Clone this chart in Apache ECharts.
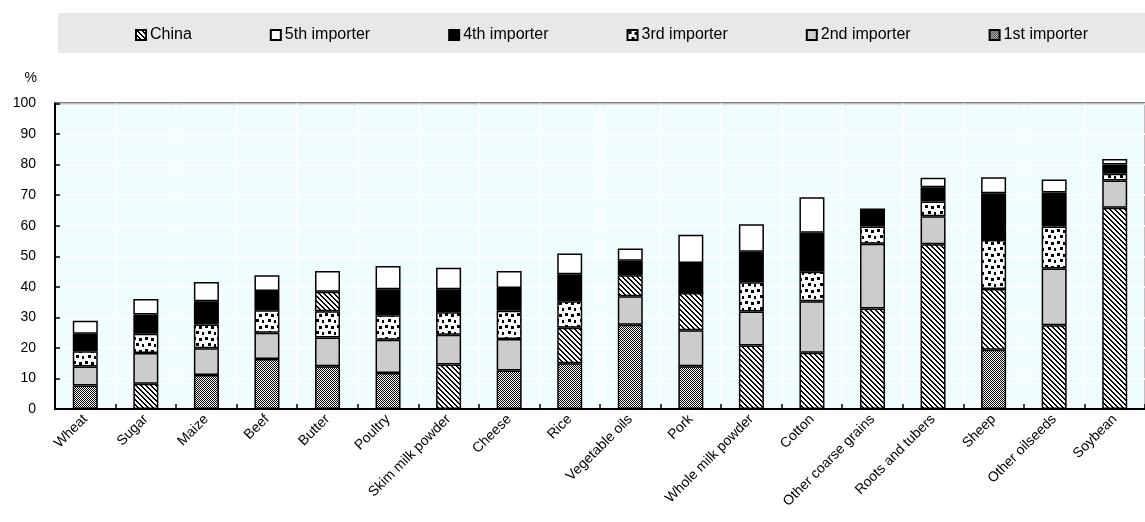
<!DOCTYPE html>
<html>
<head>
<meta charset="utf-8">
<script src="https://cdn.jsdelivr.net/npm/echarts@6/dist/echarts.min.js"></script>
<style>
  html, body { margin: 0; padding: 0; background: #fff; }
  #chart { width: 1145px; height: 522px; }
</style>
</head>
<body>
<div id="chart"></div>
<script>
// Share of world imports (%) held by the five largest importers of each commodity
const categories = ['Wheat', 'Sugar', 'Maize', 'Beef', 'Butter', 'Poultry', 'Skim milk powder', 'Cheese', 'Rice',
  'Vegetable oils', 'Pork', 'Whole milk powder', 'Cotton', 'Other coarse grains', 'Roots and tubers', 'Sheep',
  'Other oilseeds', 'Soybean'];

const rank1 = [7.7, 8.3, 11.1, 16.4, 14.0, 11.8, 14.6, 12.6, 15.0, 27.6, 14.0, 20.8, 18.4, 32.9, 53.9, 19.4, 27.4, 65.9];
const rank2 = [6.2, 10.0, 8.8, 8.6, 9.4, 10.9, 9.7, 10.3, 11.6, 9.3, 11.8, 11.1, 16.9, 21.2, 9.2, 19.9, 18.6, 8.9];
const rank3 = [5.0, 6.3, 7.8, 7.3, 8.6, 8.0, 7.4, 9.3, 8.7, 6.9, 12.2, 9.6, 9.6, 5.6, 4.8, 16.0, 13.7, 2.2];
const rank4 = [5.7, 6.3, 7.6, 6.3, 6.4, 8.5, 7.5, 7.4, 8.8, 4.7, 9.8, 10.0, 12.8, 5.7, 4.7, 15.3, 11.2, 3.0];
const rank5 = [4.3, 5.1, 6.3, 5.2, 6.8, 7.6, 7.0, 5.6, 6.8, 4.0, 9.2, 9.0, 11.6, 0, 3.1, 5.3, 4.2, 1.8];

// China's position among the top five importers (0 = not in the top five)
const chinaRank = [0, 1, 0, 0, 4, 0, 1, 0, 2, 3, 3, 1, 1, 1, 1, 2, 1, 1];

const seriesNames = ['China', '5th importer', '4th importer', '3rd importer', '2nd importer', '1st importer'];
const yTicks = { min: 0, max: 100, interval: 10 };

// Small repeating fill patterns
function tile(size, draw) {
  const c = document.createElement('canvas');
  c.width = size; c.height = size;
  const g = c.getContext('2d');
  draw(g, size);
  return { image: c, repeat: 'repeat' };
}
const hatch = tile(5, (g, n) => {
  g.fillStyle = '#fff'; g.fillRect(0, 0, n, n);
  g.fillStyle = '#000';
  for (let y = 0; y < n; y++) { g.fillRect(y % n, y, 1, 1); g.fillRect((y + 1) % n, y, 1, 1); }
});
const checker = tile(2, (g) => {
  g.fillStyle = '#fff'; g.fillRect(0, 0, 2, 2);
  g.fillStyle = '#000'; g.fillRect(0, 0, 1, 1); g.fillRect(1, 1, 1, 1);
});
const confetti = tile(12, (g) => {
  g.fillStyle = '#fff'; g.fillRect(0, 0, 12, 12);
  g.fillStyle = '#000';
  [[1, 1], [7, 2], [4, 7], [10, 8]].forEach(([x, y]) => g.fillRect(x, y, 3, 3));
});

const fills = {
  'China': hatch,
  '5th importer': '#ffffff',
  '4th importer': '#000000',
  '3rd importer': confetti,
  '2nd importer': '#cccccc',
  '1st importer': checker
};

const rankData = [rank1, rank2, rank3, rank4, rank5];
const rankNames = ['1st importer', '2nd importer', '3rd importer', '4th importer', '5th importer'];

const border = { borderColor: '#000', borderWidth: 1.5 };

const series = rankNames.map((name, r) => ({
  name,
  type: 'bar',
  stack: 'share',
  barWidth: 25,
  itemStyle: Object.assign({ color: fills[name] }, border),
  data: rankData[r].map((v, i) => chinaRank[i] === r + 1
    ? { value: v, itemStyle: { color: fills['China'] } }
    : v)
}));
// China series: its segments sit inside the ranked stack above, this entry carries the legend key
series.push({
  name: 'China',
  type: 'bar',
  stack: 'share',
  barWidth: 25,
  itemStyle: Object.assign({ color: fills['China'] }, border),
  data: categories.map(() => '-')
});

const font = "'Liberation Sans', Arial, sans-serif";

const chart = echarts.init(document.getElementById('chart'), null, { renderer: 'canvas' });
chart.setOption({
  animation: false,
  backgroundColor: '#fff',
  graphic: [{
    type: 'rect', left: 58, top: 13, z: -10,
    shape: { width: 1100, height: 40 },
    style: { fill: '#e8e8e8' }
  }],
  legend: {
    data: seriesNames,
    left: 135, top: 27, padding: 0, width: 1000,
    itemGap: 78, itemWidth: 10, itemHeight: 10, icon: 'rect',
    textStyle: { fontFamily: font, fontSize: 16, color: '#000', padding: [0, 0, 0, -1] }
  },
  grid: {
    left: 55, top: 103.5, width: 1103, bottom: 113,
    show: true, backgroundColor: '#effdff', borderColor: '#000', borderWidth: 2
  },
  xAxis: {
    type: 'category',
    data: categories,
    axisLine: { lineStyle: { color: '#000', width: 2 } },
    axisTick: { show: true, inside: true, length: 5, alignWithLabel: false, lineStyle: { color: '#000', width: 1.5 } },
    splitLine: { show: true, lineStyle: { color: '#ffffff', width: 1.5 } },
    axisLabel: { rotate: 45, margin: 8, color: '#000', fontFamily: font, fontSize: 14, interval: 0 }
  },
  yAxis: {
    type: 'value',
    min: yTicks.min, max: yTicks.max, interval: yTicks.interval,
    name: '%', nameLocation: 'end', nameGap: 18,
    nameTextStyle: { fontFamily: font, fontSize: 14, color: '#000', align: 'right', padding: [0, 18, 0, 0] },
    axisLine: { show: true, lineStyle: { color: '#000', width: 2 } },
    axisTick: { show: true, inside: true, length: 5, lineStyle: { color: '#000', width: 1.5 } },
    splitLine: { show: true, lineStyle: { color: '#ffffff', width: 1.5 } },
    axisLabel: { margin: 19, color: '#000', fontFamily: font, fontSize: 14 }
  },
  series
});
</script>
</body>
</html>
